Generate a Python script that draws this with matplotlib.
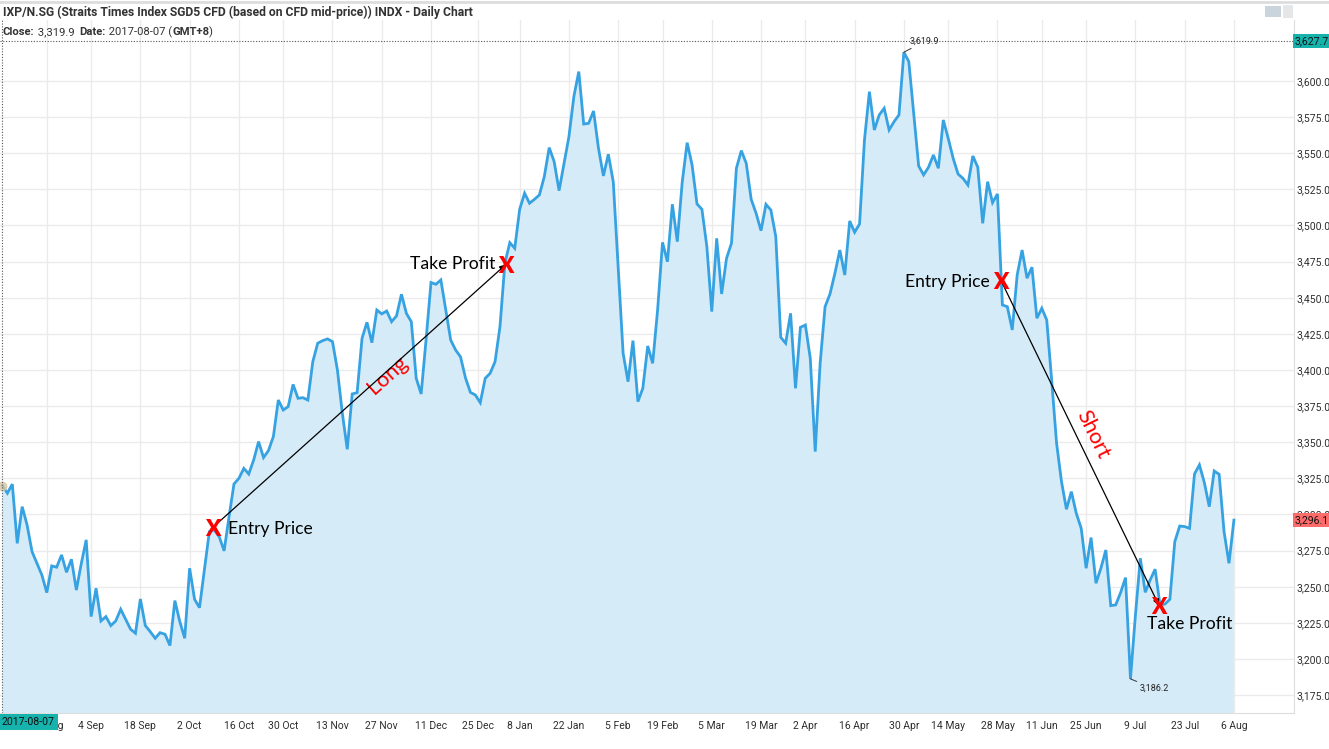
import matplotlib.pyplot as plt
import numpy as np
import pandas as pd
from matplotlib.lines import Line2D
from matplotlib.patches import Rectangle
from matplotlib.transforms import blended_transform_factory

plt.rcParams['font.family'] = ['Roboto', 'DejaVu Sans']

# trading calendar (SGX), daily closes
start_date = '2017-08-07'
end_date = '2018-08-06'
sgx_holidays = ['2017-08-09', '2017-09-01', '2017-10-18', '2017-12-25', '2018-01-01',
                '2018-02-16', '2018-03-30', '2018-05-01', '2018-05-29', '2018-06-15']

closes = [
    3319.9, 3314.7, 3321.0, 3280.0, 3305.4, 3292.7, 3274.3, 3266.2, 3258.1, 3245.9,
    3264.4, 3263.5, 3272.0, 3260.0, 3269.0, 3247.7, 3266.0, 3282.4, 3229.3, 3248.9,
    3226.3, 3229.3, 3223.1, 3226.3, 3234.4, 3227.5, 3220.6, 3217.8, 3241.5, 3223.1,
    3218.9, 3214.3, 3218.2, 3217.1, 3209.3, 3240.4, 3225.9, 3214.3, 3262.8, 3241.3,
    3235.5, 3262.0, 3288.1, 3289.3, 3284.6, 3274.8, 3298.5, 3321.1, 3325.0, 3331.9,
    3328.0, 3337.7, 3350.4, 3339.4, 3344.2, 3353.9, 3379.2, 3372.3, 3374.6, 3390.0,
    3380.4, 3380.8, 3379.2, 3405.7, 3418.5, 3420.3, 3421.5, 3419.6, 3400.0, 3370.0,
    3345.1, 3383.4, 3384.3, 3421.9, 3433.0, 3418.9, 3441.5, 3438.8, 3440.8, 3433.4,
    3437.4, 3452.4, 3439.2, 3433.4, 3394.2, 3383.4, 3421.0, 3460.5, 3459.3, 3462.3,
    3441.5, 3420.7, 3413.8, 3409.0, 3394.5, 3384.5, 3382.7, 3377.4, 3394.2, 3397.7,
    3405.7, 3429.9, 3473.8, 3488.1, 3484.2, 3511.2, 3522.3, 3515.4, 3518.1, 3521.1,
    3533.8, 3553.9, 3544.2, 3524.1, 3543.0, 3561.5, 3589.2, 3606.5, 3570.2, 3570.7,
    3579.2, 3553.4, 3534.3, 3549.3, 3530.3, 3471.5, 3411.6, 3391.9, 3420.3, 3378.1,
    3387.3, 3416.6, 3404.6, 3441.5, 3488.3, 3474.9, 3514.7, 3488.8, 3530.0, 3557.3,
    3541.9, 3514.9, 3511.2, 3485.4, 3440.4, 3491.1, 3452.6, 3477.3, 3487.7, 3539.6,
    3551.8, 3543.0, 3518.1, 3508.4, 3496.4, 3514.6, 3510.7, 3492.2, 3422.6, 3418.5,
    3439.2, 3387.3, 3429.5, 3431.1, 3408.0, 3343.5, 3404.6, 3443.8, 3452.6, 3466.9,
    3483.0, 3465.7, 3503.1, 3495.3, 3501.0, 3559.2, 3592.6, 3566.1, 3576.5, 3581.1,
    3566.1, 3571.8, 3576.5, 3619.9, 3613.4, 3577.6, 3541.2, 3535.0, 3540.3, 3548.8,
    3539.6, 3573.0, 3560.3, 3546.5, 3535.6, 3532.6, 3528.0, 3548.1, 3540.3, 3501.5,
    3530.3, 3515.8, 3521.8, 3445.0, 3443.8, 3427.7, 3465.7, 3483.0, 3463.5, 3471.1,
    3435.8, 3442.7, 3434.6, 3393.0, 3349.3, 3322.7, 3303.6, 3315.8, 3300.8, 3290.4,
    3262.8, 3284.0, 3252.4, 3262.8, 3275.4, 3236.9, 3237.4, 3245.9, 3256.3, 3186.2,
    3230.0, 3269.7, 3246.1, 3254.7, 3262.1, 3237.4, 3238.0, 3241.3, 3281.2, 3292.0,
    3291.6, 3290.4, 3328.0, 3334.3, 3322.0, 3305.4, 3330.1, 3327.8, 3288.1, 3266.2,
    3296.1,
]

# trades drawn on the chart: (trading-day position, price)
long_entry = (42.7, 3291)
long_exit = (102.2, 3473)
short_entry = (202.7, 3462)
short_exit = (234.8, 3237)

cursor_price = 3627.7
y_ticks = np.arange(3175, 3601, 25)

days = pd.bdate_range(start_date, end_date)
days = days[~days.isin(pd.to_datetime(sgx_holidays))]
x = np.arange(len(days))
y = np.array(closes)

tick_dates = pd.date_range('2017-08-21', end_date, freq='14D')
tick_pos = []
for d in tick_dates:
    p = days.searchsorted(d)
    tick_pos.append(p if days[p] == d else p - 0.5)
tick_labels = [f'{d.day} {d:%b}' for d in tick_dates]

W, H = 1329, 749
fig = plt.figure(figsize=(W / 100, H / 100), dpi=100)
ax = fig.add_axes([0, 1 - 713 / H, 1294 / W, (713 - 20) / H])

line_c = '#36a2e2'
ax.fill_between(x, y, 3100, color='#d6ebf8', lw=0)
ax.plot(x, y, color=line_c, lw=2.0, solid_joinstyle='miter')
ax.plot(x[0], y[0], 'o', color='#d9c6a5', ms=6, alpha=0.8, zorder=4)

ax.set_xlim(-0.5, 262.2)
ax.set_ylim(3162.6, 3642.2)
ax.set_yticks(y_ticks)
ax.set_yticklabels([f'{v:,.1f}' for v in y_ticks])
ax.yaxis.tick_right()
ax.set_xticks(tick_pos)
ax.set_xticklabels(tick_labels)
ax.tick_params(axis='both', length=0, labelsize=7.5, colors='#2e2e2e')
ax.tick_params(axis='y', pad=2)
ax.tick_params(axis='x', pad=6)
ax.grid(True, color='#ebebeb', lw=1)
ax.set_axisbelow(True)
for s in ['top', 'left']:
    ax.spines[s].set_visible(False)
for s in ['right', 'bottom']:
    ax.spines[s].set_color('#dddddd')

# cursor crosshair
ax.axhline(cursor_price, color='#555555', lw=0.8, ls=(0, (1, 1.5)), zorder=5)
ax.axvline(0, color='#555555', lw=0.8, ls=(0, (1, 1.5)), zorder=5)

# high / low labels
hi = int(np.argmax(y))
lo = int(np.argmin(y))
ax.annotate(f'{y[hi]:,.1f}', xy=(x[hi], y[hi]), xytext=(4.5, 8), textcoords='offset points',
            fontsize=6.5, color='#222222', ha='left', va='center',
            arrowprops=dict(arrowstyle='-', color='#333333', lw=0.7, shrinkA=0, shrinkB=0))
ax.annotate(f'{y[lo]:,.1f}', xy=(x[lo], y[lo]), xytext=(6.5, -7), textcoords='offset points',
            fontsize=6.5, color='#222222', ha='left', va='center',
            arrowprops=dict(arrowstyle='-', color='#333333', lw=0.7, shrinkA=0, shrinkB=0))

# trades
note_font = ['Lato', 'DejaVu Sans']
red = '#ff0000'
for a, b in [(long_entry, long_exit), (short_entry, short_exit)]:
    ax.annotate('', xy=b, xytext=a,
                arrowprops=dict(arrowstyle='-|>', color='black', lw=0.9,
                                mutation_scale=9, shrinkA=0, shrinkB=0), zorder=6)
    for p in (a, b):
        ax.text(p[0], p[1], 'X', color=red, fontsize=16, fontweight='heavy',
                family=note_font, ha='center', va='center_baseline', zorder=7)

ax.annotate('Entry Price', xy=long_entry, xytext=(11, 0), textcoords='offset points',
            fontsize=12.6, family=note_font, ha='left', va='center_baseline', color='black')
ax.annotate('Take Profit', xy=long_exit, xytext=(-7.5, 1.5), textcoords='offset points',
            fontsize=12.6, family=note_font, ha='right', va='center_baseline', color='black')
ax.annotate('Entry Price', xy=short_entry, xytext=(-8, 0), textcoords='offset points',
            fontsize=12.6, family=note_font, ha='right', va='center_baseline', color='black')
ax.annotate('Take Profit', xy=short_exit, xytext=(-8.5, -12.5), textcoords='offset points',
            fontsize=12.6, family=note_font, ha='left', va='center_baseline', color='black')
ax.annotate('Long', xy=long_entry, xytext=(126, 110), textcoords='offset points',
            fontsize=15.5, family=note_font, ha='center', va='center', color=red,
            rotation=42, rotation_mode='anchor')
ax.annotate('Short', xy=short_entry, xytext=(66, -111), textcoords='offset points',
            fontsize=15.5, family=note_font, ha='center', va='center', color=red,
            rotation=-64, rotation_mode='anchor')

# price boxes on the right axis
trans = blended_transform_factory(ax.transAxes, ax.transData)
ax.text(1.0005, cursor_price, f'{cursor_price:,.1f}', transform=trans, fontsize=7.6,
        color='#111111', ha='left', va='center', zorder=8, clip_on=False,
        bbox=dict(boxstyle='square,pad=0.2', fc='#16b3ac', ec='none'))
ax.text(1.0005, y[-1], f'{y[-1]:,.1f}', transform=trans, fontsize=7.6,
        color='#111111', ha='left', va='center', zorder=8, clip_on=False,
        bbox=dict(boxstyle='square,pad=0.2', fc='#fe6b6b', ec='none'))

# date box bottom left
fig.text(2 / W, 1 - 722 / H, days[0].strftime('%Y-%m-%d'), fontsize=7.6,
         color='#111111', ha='left', va='center', zorder=10,
         bbox=dict(boxstyle='square,pad=0.25', fc='#16b3ac', ec='none'))

# header
fig.add_artist(Line2D([0, 1], [1 - 2 / H] * 2, color='#dddddd', lw=2))
fig.add_artist(Rectangle((1265 / W, 1 - 17 / H), 16 / W, 11 / H, fc='#c9d4dc', ec='none'))
fig.add_artist(Rectangle((1283 / W, 1 - 18 / H), 10 / W, 13 / H, fc='#e4e6e8', ec='none'))

renderer = fig.canvas.get_renderer()
title = fig.text(3 / W, 1 - 12 / H,
                 'IXP/N.SG (Straits Times Index SGD5 CFD (based on CFD mid-price)) INDX - Daily Chart',
                 fontsize=8.3, fontweight='bold', color='#333333', va='center', ha='left')
# scale the title so it spans the same width as in the source chart
tw = title.get_window_extent(renderer).width
title.set_fontsize(8.3 * 473 / tw)

pieces = [('Close:', 'bold'), (' 3,319.9  ', 'normal'), ('Date:', 'bold'),
          (' 2017-08-07 (', 'normal'), ('GMT+8', 'bold'), (')', 'normal')]
fs2 = 7.6
total = 0
for txt, wt in pieces:
    t = fig.text(0, 0, txt, fontsize=fs2, fontweight=wt)
    total += t.get_window_extent(renderer).width
    t.remove()
fs2 = fs2 * 210 / total
px = 3
for txt, wt in pieces:
    t = fig.text(px / W, 1 - 32 / H, txt, fontsize=fs2, fontweight=wt, color='#333333',
                 va='center', ha='left')
    px += t.get_window_extent(renderer).width

fig.savefig('out.png', dpi=100)
